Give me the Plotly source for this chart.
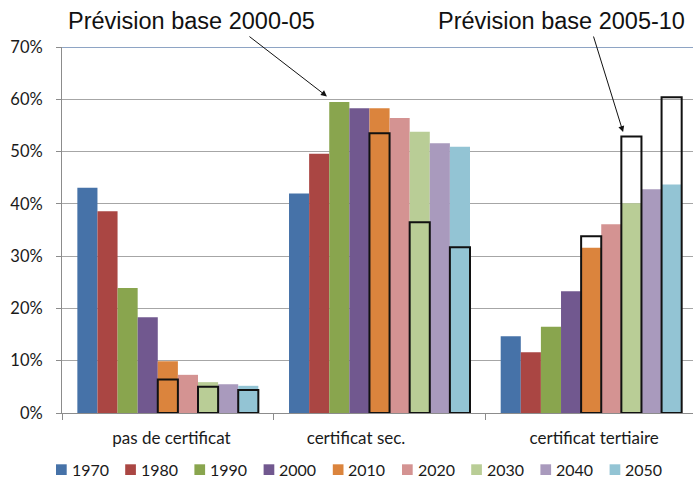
import plotly.graph_objects as go

# --- data ---
categories = ["pas de certificat", "certificat sec.", "certificat tertiaire"]
years = ["1970", "1980", "1990", "2000", "2010", "2020", "2030", "2040", "2050"]
values = {
    "1970": [43.1, 42.0, 14.7],
    "1980": [38.6, 49.6, 11.6],
    "1990": [23.9, 59.5, 16.5],
    "2000": [18.3, 58.3, 23.3],
    "2010": [9.9, 58.3, 31.6],
    "2020": [7.3, 56.4, 36.1],
    "2030": [5.9, 53.8, 40.1],
    "2040": [5.5, 51.6, 42.8],
    "2050": [5.2, 50.9, 43.7],
}
# older forecast (base 2000-05 / 2005-10), drawn as outlined bars
forecast_years = ["2010", "2030", "2050"]
forecast = {
    "2010": [6.4, 53.5, 33.8],
    "2030": [5.0, 36.5, 52.9],
    "2050": [4.4, 31.7, 60.4],
}
y_ticks = [0, 10, 20, 30, 40, 50, 60, 70]
y_tick_labels = ["0%", "10%", "20%", "30%", "40%", "50%", "60%", "70%"]

colors = {
    "1970": "#4672A8", "1980": "#AA4643", "1990": "#89A54E",
    "2000": "#71588F", "2010": "#DB843D", "2020": "#D49392",
    "2030": "#B9CD96", "2040": "#A99ABD", "2050": "#93C4D4",
}

# --- layout constants (pixels) ---
W, H = 693, 479
ML, MT, MB = 62, 47, 66
PW, PH = W - ML, H - MT - MB
GROUP_W = 0.855
BAR_W = GROUP_W / len(years)
FONT = "Lato, Calibri, sans-serif"

def px(x):
    return (x - ML) / PW

def py(y):
    return (H - MB - y) / PH

def offset_for(year):
    return -GROUP_W / 2 + years.index(year) * BAR_W

x_pos = list(range(len(categories)))

fig = go.Figure()
for yr in years:
    fig.add_trace(go.Bar(
        x=x_pos, y=[v / 100 for v in values[yr]], name=yr,
        offset=offset_for(yr), width=BAR_W,
        marker=dict(color=colors[yr], line=dict(width=0)),
    ))

for yr in forecast_years:
    fig.add_trace(go.Bar(
        x=x_pos, y=[v / 100 for v in forecast[yr]], name=yr + " (prévision)",
        offset=offset_for(yr), width=BAR_W, cliponaxis=False,
        marker=dict(color="rgba(0,0,0,0)", line=dict(color="#111111", width=2)),
    ))

# top border line at 70%
fig.add_shape(type="line", xref="paper", yref="y", x0=0, x1=1, y0=0.7, y1=0.7,
              line=dict(color="#8EA4C4", width=2))

# --- legend (drawn by hand so the spacing matches) ---
for i, yr in enumerate(years):
    left = 56 + 69.2 * i
    fig.add_shape(type="rect", xref="paper", yref="paper",
                  x0=px(left), x1=px(left + 10.7), y0=py(464.3), y1=py(475),
                  fillcolor=colors[yr], line=dict(width=0))
    fig.add_annotation(text=yr, xref="paper", yref="paper", x=px(left + 14.5), y=py(469.5),
                       xanchor="left", yanchor="middle", showarrow=False,
                       font=dict(size=16), borderpad=0)

# --- annotations ---
ann_font = dict(family="Liberation Sans, Arial, sans-serif", size=23.5, color="#111111")
fig.add_annotation(text="Prévision base 2000-05", xref="paper", yref="paper",
                   x=px(67), y=py(20.7), xanchor="left", yanchor="middle",
                   showarrow=False, font=ann_font, borderpad=0)
fig.add_annotation(text="Prévision base 2005-10", xref="paper", yref="paper",
                   x=px(437), y=py(20.7), xanchor="left", yanchor="middle",
                   showarrow=False, font=ann_font, borderpad=0)
fig.add_annotation(text="", x=0.7517, y=0.6055, xref="x", yref="y",
                   ax=-79, ay=-61, showarrow=True, arrowhead=2, arrowsize=1.2,
                   arrowwidth=1, arrowcolor="#111111")
fig.add_annotation(text="", x=2.1506, y=0.5374, xref="x", yref="y",
                   ax=-30, ay=-97, showarrow=True, arrowhead=2, arrowsize=1.2,
                   arrowwidth=1, arrowcolor="#111111")

fig.update_layout(
    width=W, height=H,
    margin=dict(l=ML, r=0, t=MT, b=MB, autoexpand=False),
    barmode="overlay", showlegend=False,
    plot_bgcolor="white", paper_bgcolor="white",
    font=dict(family=FONT, size=15, color="#1a1a1a"),
)
fig.update_xaxes(
    range=[-0.5, 2.481], tickmode="array", tickvals=[0.017, 0.889, 2.014], ticktext=categories,
    ticks="", showgrid=False, zeroline=False, showline=True, linecolor="#8c8c8c",
    linewidth=1, ticklabelstandoff=10, tickfont=dict(size=17), automargin=False,
    minor=dict(tickmode="linear", tick0=-0.5, dtick=1, ticks="outside", ticklen=6,
               tickcolor="#8c8c8c", showgrid=False),
)
fig.update_yaxes(
    range=[0, 0.7], tickmode="array", tickvals=[t / 100 for t in y_ticks],
    ticktext=y_tick_labels, showgrid=True, gridcolor="#a6a6a6", gridwidth=1,
    zeroline=False, showline=True, linecolor="#8c8c8c", linewidth=1,
    ticks="outside", ticklen=5, tickcolor="#8c8c8c", ticklabelstandoff=10,
    tickfont=dict(size=16.5), automargin=False,
)

# page body has a default margin; drop it so the chart sits at the top-left corner
fig.write_html("out.html", config={"displayModeBar": False},
               post_script="document.body.style.margin='0';")
